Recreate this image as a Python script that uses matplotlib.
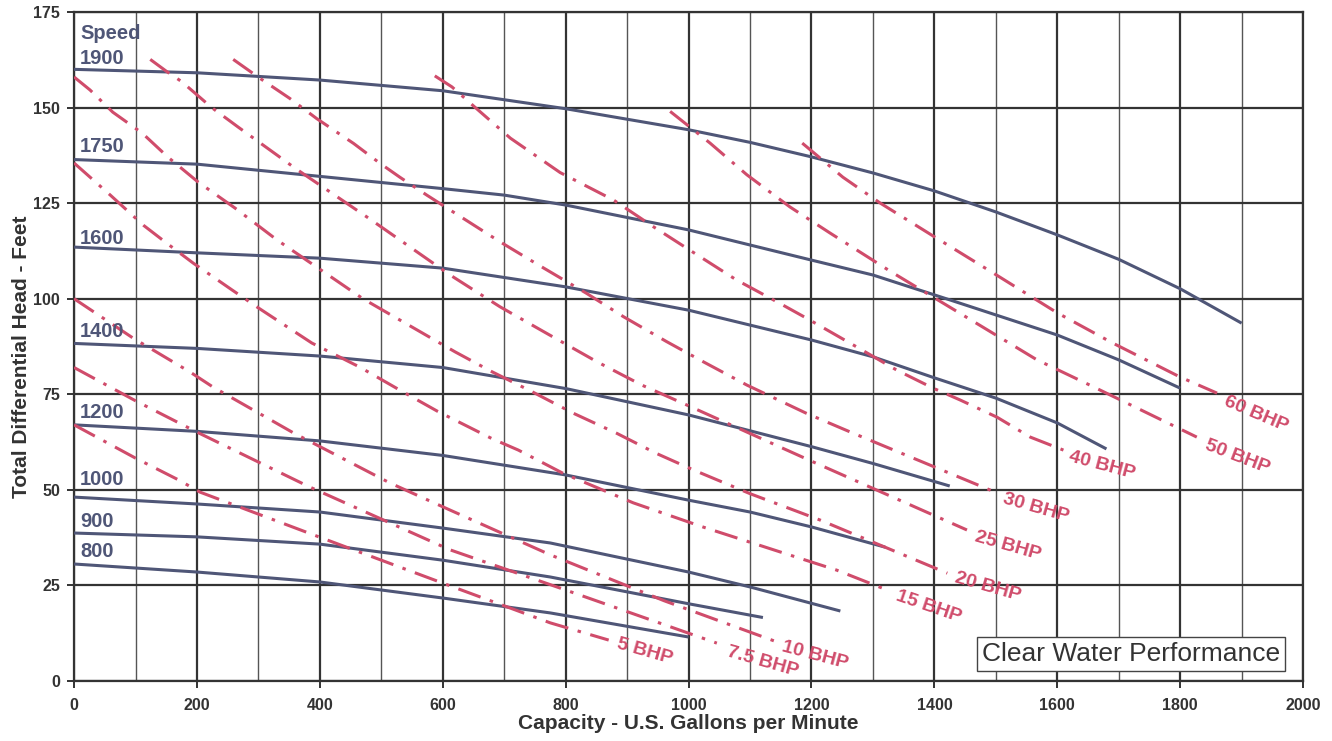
import numpy as np
import matplotlib
matplotlib.use('Agg')
import matplotlib.pyplot as plt

plt.rcParams['font.family'] = ['Liberation Sans', 'DejaVu Sans']
plt.rcParams['lines.scale_dashes'] = False

# pump speed curves (rpm) - capacity [gpm] vs head [ft]
speed_names = ['1900', '1750', '1600', '1400', '1200', '1000', '900', '800']
speed_x = [
    [0, 200, 400, 600, 800, 1000, 1100, 1200, 1300, 1400, 1500, 1600, 1700, 1800, 1900],
    [0, 200, 400, 600, 700, 800, 1000, 1200, 1300, 1425, 1600, 1700, 1800],
    [0, 200, 400, 600, 800, 1000, 1100, 1200, 1300, 1400, 1500, 1600, 1680],
    [0, 200, 400, 600, 800, 1000, 1200, 1300, 1425],
    [0, 200, 400, 600, 800, 1000, 1100, 1200, 1320],
    [0, 200, 400, 600, 775, 1000, 1100, 1247],
    [0, 200, 400, 600, 775, 1000, 1121],
    [0, 200, 400, 600, 775, 1000],
]
speed_h = [
    [160, 159.1, 157.2, 154.4, 149.7, 144.2, 140.9, 137.1, 132.9, 128.2, 122.7, 116.7, 110.3, 102.6, 93.6],
    [136.4, 135.2, 132, 128.8, 127.1, 124.5, 118, 110.1, 106.2, 99.7, 90.5, 84, 76.6],
    [113.5, 112, 110.6, 108, 103.1, 97, 93.1, 89.2, 84.8, 79.3, 74, 67.5, 60.7],
    [88.3, 87, 85, 82, 76.5, 69.6, 61.3, 56.9, 51],
    [67, 65.3, 62.8, 59, 53.9, 47.3, 44.2, 40.3, 35],
    [48.1, 46.3, 44.2, 40, 36.1, 28.5, 24.6, 18.3],
    [38.7, 37.7, 35.8, 31.6, 27.2, 20.2, 16.6],
    [30.6, 28.5, 25.9, 21.7, 17.8, 11.5],
]
speed_label_y = [162.8, 139.8, 115.7, 91.5, 70.2, 52.6, 41.7, 33.9]

# brake horsepower lines
bhp_names = ['5 BHP', '7.5 BHP', '10 BHP', '15 BHP', '20 BHP', '25 BHP', '30 BHP', '40 BHP', '50 BHP', '60 BHP']
bhp_x = [
    [0, 100, 170, 205, 400, 600, 775, 870],
    [0, 100, 200, 384, 612, 791, 1046],
    [0, 96, 189, 226, 357, 514, 612, 775, 960, 1144],
    [0, 59, 113, 151, 194, 257, 298, 387, 465, 530, 592, 680, 723, 796, 910, 1023, 1154, 1241, 1323],
    [0, 26, 63, 111, 153, 202, 262, 330, 470, 620, 680, 745, 813, 883, 948, 1008, 1100, 1214, 1421],
    [124, 151, 175, 224, 267, 330, 360, 480, 612, 693, 764, 851, 924, 997, 1200, 1453],
    [259, 303, 351, 395, 455, 498, 530, 574, 612, 693, 756, 834, 894, 964, 1024, 1095, 1192, 1268, 1499],
    [587, 615, 653, 710, 791, 878, 943, 1002, 1078, 1146, 1192, 1268, 1339, 1398, 1442, 1502, 1556, 1610],
    [970, 1035, 1095, 1165, 1230, 1330, 1425, 1567, 1653, 1827],
    [1185, 1214, 1251, 1312, 1400, 1500, 1600, 1689, 1800, 1860],
]
bhp_h = [
    [67, 58.3, 52.6, 49.4, 37.6, 25.6, 15.2, 10.7],
    [82, 73.3, 65.1, 50.7, 34.3, 24.3, 9.9],
    [100, 89.7, 80.8, 76.9, 64.9, 51.8, 44.7, 33, 21, 10.2],
    [135.5, 127.1, 119.2, 114.5, 109.3, 102.3, 97.8, 88.4, 82.1, 76.1, 70.5, 63.4, 60.4, 54.3, 46.6, 40.3, 33.5, 29, 23.8],
    [158, 154.6, 148.8, 143.3, 137, 130.5, 123.7, 115.4, 100, 86.1, 80.9, 75.7, 70, 64.8, 59.5, 55.2, 49, 42.1, 28.2],
    [162.6, 159.4, 156.8, 150, 144.9, 137.6, 134.1, 121, 106.2, 97.9, 91.4, 83.5, 77.4, 72.2, 57.5, 39.5],
    [162.6, 157.6, 152.4, 147.1, 140.6, 135.4, 131.8, 127.1, 123.2, 114.9, 108.8, 101.4, 95.3, 88.8, 83.5, 77.4, 70, 64.8, 49.4],
    [158.3, 155.4, 150, 142, 133, 125.8, 118.8, 112.7, 104.9, 99, 94.9, 87.9, 81.3, 76.6, 73.5, 69, 63.8, 60.4],
    [149, 140.7, 132.4, 124, 117.2, 107, 97.8, 84, 77.4, 63.8],
    [140.7, 136.8, 131.8, 125, 116.2, 106.3, 96.3, 88.5, 79.5, 75.3],
]
bhp_label_x = [929, 1120, 1206, 1390, 1487, 1520, 1565, 1673, 1893, 1924]
bhp_label_y = [7.6, 5.0, 6.8, 19.4, 24.6, 35.3, 45.3, 56.5, 58.6, 69.8]
bhp_label_rot = [-16, -16, -15, -19, -16, -16, -16, -15, -21, -23]

blue = '#4f5677'
red = '#d04c6b'
dark = '#333333'

fig = plt.figure(figsize=(13.32, 7.41), dpi=100)
ax = fig.add_axes([0.0556, 0.081, 0.9227, 0.9028])

for i in range(len(speed_names)):
    ax.plot(speed_x[i], speed_h[i], color=blue, lw=2.2, solid_capstyle='butt', zorder=3)
    ax.text(10, speed_label_y[i], speed_names[i], color=blue, fontsize=14.5,
            fontweight='bold', ha='left', va='center', zorder=4)
ax.text(10, 169.5, 'Speed', color=blue, fontsize=14.5, fontweight='bold',
        ha='left', va='center', zorder=4)

for i in range(len(bhp_names)):
    ax.plot(bhp_x[i], bhp_h[i], color=red, lw=2.2, dashes=(17, 7, 2.5, 7), zorder=3.5)
    ax.text(bhp_label_x[i], bhp_label_y[i], bhp_names[i], color=red, fontsize=14,
            fontweight='bold', ha='center', va='center', rotation=bhp_label_rot[i],
            rotation_mode='anchor', zorder=4)

ax.text(1720, 7.06, 'Clear Water Performance', fontsize=19, color=dark,
        ha='center', va='center', zorder=6,
        bbox=dict(boxstyle='square,pad=0.2', fc='white', ec='#444444', lw=1.0))

ax.set_xlim(0, 2000)
ax.set_ylim(0, 175)
ax.set_xticks(np.arange(0, 2001, 200))
ax.set_xticks(np.arange(100, 2000, 200), minor=True)
ax.set_yticks(np.arange(0, 176, 25))
ax.grid(which='major', color=dark, lw=1.6, zorder=1)
ax.grid(which='minor', axis='x', color='#555555', lw=1.0, zorder=1)
ax.set_axisbelow(True)
ax.tick_params(which='major', length=5, width=1.4, color=dark, labelcolor=dark,
               labelsize=11.5)
ax.tick_params(axis='x', which='major', pad=7)
ax.tick_params(axis='y', which='major', pad=5)
ax.tick_params(which='minor', length=0)
for lab in ax.get_xticklabels() + ax.get_yticklabels():
    lab.set_fontweight('bold')
for sp in ax.spines.values():
    sp.set_color(dark)
    sp.set_linewidth(1.6)

ax.set_xlabel('Capacity - U.S. Gallons per Minute', fontsize=15, fontweight='bold',
              color=dark, labelpad=1)
ax.set_ylabel('Total Differential Head - Feet', fontsize=15, fontweight='bold',
              color=dark)
ax.yaxis.set_label_coords(-0.035, 0.485)

fig.savefig('out.png', dpi=100, facecolor='white')
